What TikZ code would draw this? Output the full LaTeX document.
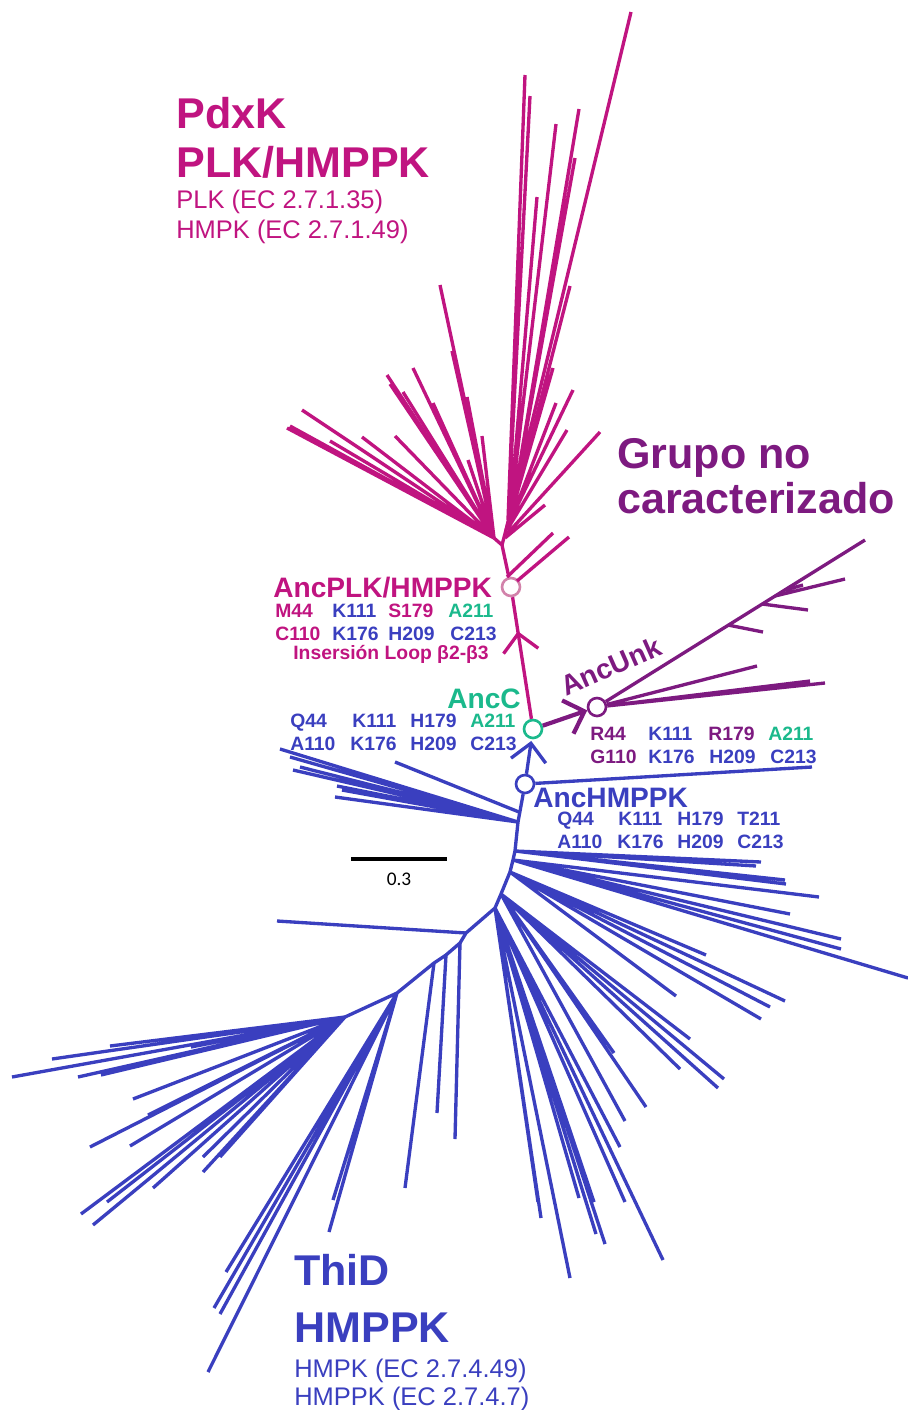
\documentclass[tikz,border=0pt]{standalone}
\usepackage{fontspec}
\setmainfont{Liberation Sans}
\newfontfamily\barfont{Carlito}
\usetikzlibrary{arrows.meta,decorations.markings}
\definecolor{pdxk}{RGB}{192,20,128}
\definecolor{unk}{RGB}{125,26,128}
\definecolor{thid}{RGB}{58,63,191}
\definecolor{ancc}{RGB}{27,185,140}
\definecolor{plkring}{RGB}{210,130,170}
\tikzset{
  branch/.style={line width=1.9pt},
  anc/.style={circle,fill=white,line width=1.5pt,minimum size=0.36cm,inner sep=0pt},
  barb/.style={-{Straight Barb[length=10pt,width=20pt]}},
  title/.style={font=\bfseries\fontsize{24.5}{24.5}\selectfont,anchor=base west,inner sep=0pt},
  ec/.style={font=\fontsize{14.5}{14.5}\selectfont,anchor=base west,inner sep=0pt},
  anclab/.style={font=\bfseries\fontsize{16}{16}\selectfont,anchor=base west,inner sep=0pt},
  res/.style={font=\bfseries\fontsize{11}{11}\selectfont,anchor=base west,inner sep=0pt}
}
\begin{document}
\begin{tikzpicture}[x=0.02cm,y=-0.02cm]
\useasboundingbox (0,0) rectangle (908,1410);
\node[anc,draw=plkring] (AncPLK) at (511,587) {};
\node[anc,draw=ancc] (AncC) at (533,729) {};
\node[anc,draw=unk] (AncUnk) at (597,707) {};
\node[anc,draw=thid] (AncHMPPK) at (525,784) {};
\coordinate (plkJ) at (502,545);
\coordinate (plkL) at (494,538);
\draw[branch,pdxk] (AncPLK) -- (plkJ) -- (plkL);
\draw[branch,pdxk] (plkL) -- (287,428) (plkL) -- (290,426) (plkL) -- (302,410) (plkL) -- (330,441) (plkL) -- (362,437) (plkL) -- (387,375) (plkL) -- (390,384) (plkL) -- (395,436);
\draw[branch,pdxk] (plkL) -- (403,392) (plkL) -- (413,368) (plkL) -- (433,403) (plkL) -- (440,285) (plkL) -- (452,351) (plkL) -- (467,397) (plkL) -- (468,460) (plkL) -- (482,436);
\draw[branch,pdxk] (plkJ) -- (506,530) -- (512,510);
\draw[branch,pdxk] (506,530) -- (631,12) (508,520) -- (525,75) (508,520) -- (530,96) (510,515) -- (537,197) (510,515) -- (556,124) (512,510) -- (579,109) (512,510) -- (575,158);
\draw[branch,pdxk] (510,520) -- (570,286) (508,525) -- (553,368) (508,525) -- (573,390) (507,530) -- (556,403) (507,530) -- (567,430) (506,535) -- (600,432) (505,538) -- (545,505);
\draw[branch,pdxk] (507,577) -- (553,533) (517,581) -- (569,537);
\draw[branch,pdxk,postaction={decorate},decoration={markings,mark=at position 0.72 with {\arrow[line width=1.9pt]{Straight Barb[length=10pt,width=20pt]}}}] (AncC) -- (AncPLK);
\coordinate (unkA) at (728,625);
\coordinate (unkB) at (762,604);
\coordinate (unkC) at (775,596);
\coordinate (unkD) at (785,590);
\draw[branch,unk] (AncUnk) -- (865,540) (AncUnk) -- (825,683) (AncUnk) -- (810,681) (AncUnk) -- (757,666);
\draw[branch,unk] (unkA) -- (763,632) (unkB) -- (808,610) (unkC) -- (845,579) (unkD) -- (803,585);
\draw[branch,unk,barb,line width=2.4pt] (AncC) -- (AncUnk);
\draw[branch,thid,barb,shorten >=1pt] (AncHMPPK) -- (AncC);
\coordinate (thA) at (518,822);
\coordinate (thB) at (515,851);
\coordinate (thB2) at (513,860);
\coordinate (thC) at (510,872);
\coordinate (thD) at (501,894);
\coordinate (thE) at (495,908);
\coordinate (thF) at (466,933);
\coordinate (thG) at (446,955);
\coordinate (thH) at (434,963);
\coordinate (thI) at (397,993);
\coordinate (thJ) at (345,1017);
\draw[branch,thid] (AncHMPPK) -- (812,767);
\draw[branch,thid] (AncHMPPK) -- (thA) -- (thB) -- (thB2) -- (thC) -- (thD) -- (thE) -- (thF) -- (460,943) -- (thG) -- (thH) -- (thI) -- (thJ);
\draw[branch,thid] (thA) -- (280,749) (thA) -- (290,757) (thA) -- (300,767) (thA) -- (293,770) (thA) -- (337,786) (thA) -- (342,790) (thA) -- (335,797) (519,812) -- (395,762);
\draw[branch,thid] (thB) -- (761,862) (thB) -- (756,866) (thB) -- (785,880) (thB) -- (786,884);
\draw[branch,thid] (thB2) -- (819,897) (thB2) -- (790,914) (thB2) -- (841,939) (thB2) -- (841,949) (thB2) -- (908,978);
\draw[branch,thid] (thC) -- (706,955) (thC) -- (785,1001) (thC) -- (770,1007) (thC) -- (761,1019) (thC) -- (676,996);
\draw[branch,thid] (thD) -- (690,1039) (thD) -- (724,1079) (thD) -- (718,1088) (thD) -- (680,1069) (thD) -- (646,1107) (thD) -- (625,1121) (thD) -- (614,1053);
\draw[branch,thid] (thE) -- (620,1147) (thE) -- (663,1260) (thE) -- (570,1278) (thE) -- (605,1244) (thE) -- (594,1202) (thE) -- (625,1202) (thE) -- (579,1198) (thE) -- (538,1202) (thE) -- (541,1218) (thE) -- (596,1234);
\draw[branch,thid] (thF) -- (277,921) (460,943) -- (455,1139) (thG) -- (437,1113) (thH) -- (405,1188);
\draw[branch,thid] (thI) -- (329,1232) (thI) -- (333,1200) (thI) -- (208,1372) (thI) -- (237,1254) (thI) -- (226,1272) (thI) -- (214,1308) (thI) -- (220,1314);
\draw[branch,thid] (thJ) -- (191,1047) (thJ) -- (12,1077) (thJ) -- (52,1059) (thJ) -- (110,1046) (thJ) -- (78,1077) (thJ) -- (101,1075) (thJ) -- (133,1099) (thJ) -- (148,1115);
\draw[branch,thid] (thJ) -- (90,1147) (thJ) -- (130,1146) (thJ) -- (203,1157) (thJ) -- (220,1157) (thJ) -- (203,1172) (thJ) -- (153,1188) (thJ) -- (81,1214) (thJ) -- (93,1225) (thJ) -- (107,1202);
\coordinate (barL) at (351,859);
\coordinate (barR) at (447,859);
\draw[line width=1.8pt] (barL) -- (barR);
\node[font=\barfont\fontsize{11}{11}\selectfont,inner sep=0pt] (barlab) at (399,879) {0.3};
\node[title,pdxk] (pdxk1) at (176,128) {PdxK};
\node[title,pdxk] (pdxk2) at (176,177) {PLK/HMPPK};
\node[ec,pdxk] (pdxk3) at (176,208) {PLK (EC 2.7.1.35)};
\node[ec,pdxk] (pdxk4) at (176,238) {HMPK (EC 2.7.1.49)};
\node[title,unk] (unk1) at (617,468) {Grupo no};
\node[title,unk] (unk2) at (617,513) {caracterizado};
\node[title,thid] (thid1) at (294,1285) {ThiD};
\node[title,thid] (thid2) at (294,1342) {HMPPK};
\node[ec,thid] (thid3) at (294,1377) {HMPK (EC 2.7.4.49)};
\node[ec,thid] (thid4) at (294,1405) {HMPPK (EC 2.7.4.7)};
\node[anclab,pdxk] (lPLK) at (273,597) {AncPLK/HMPPK};
\node[res,pdxk] (p1) at (275,617) {M44};
\node[res,thid] (p2) at (332,617) {K111};
\node[res,pdxk] (p3) at (388,617) {S179};
\node[res,ancc] (p4) at (448,617) {A211};
\node[res,pdxk] (p5) at (275,640) {C110};
\node[res,thid] (p6) at (332,640) {K176};
\node[res,thid] (p7) at (388,640) {H209};
\node[res,thid] (p8) at (450,640) {C213};
\node[res,pdxk] (p9) at (293,659) {Insersión Loop β2-β3};
\node[anclab,ancc] (lC) at (447,708) {AncC};
\node[res,thid] (c1) at (290,727) {Q44};
\node[res,thid] (c2) at (352,727) {K111};
\node[res,thid] (c3) at (410,727) {H179};
\node[res,ancc] (c4) at (470,727) {A211};
\node[res,thid] (c5) at (290,750) {A110};
\node[res,thid] (c6) at (350,750) {K176};
\node[res,thid] (c7) at (410,750) {H209};
\node[res,thid] (c8) at (470,750) {C213};
\node[anclab,unk,rotate=24] (lUnk) at (566,697) {AncUnk};
\node[res,unk] (u1) at (590,740) {R44};
\node[res,thid] (u2) at (648,740) {K111};
\node[res,unk] (u3) at (708,740) {R179};
\node[res,ancc] (u4) at (768,740) {A211};
\node[res,unk] (u5) at (590,763) {G110};
\node[res,thid] (u6) at (648,763) {K176};
\node[res,thid] (u7) at (709,763) {H209};
\node[res,thid] (u8) at (770,763) {C213};
\node[anclab,thid] (lHMPPK) at (533,807) {AncHMPPK};
\node[res,thid] (h1) at (557,825) {Q44};
\node[res,thid] (h2) at (618,825) {K111};
\node[res,thid] (h3) at (677,825) {H179};
\node[res,thid] (h4) at (737,825) {T211};
\node[res,thid] (h5) at (557,848) {A110};
\node[res,thid] (h6) at (617,848) {K176};
\node[res,thid] (h7) at (677,848) {H209};
\node[res,thid] (h8) at (737,848) {C213};
\end{tikzpicture}
\end{document}
